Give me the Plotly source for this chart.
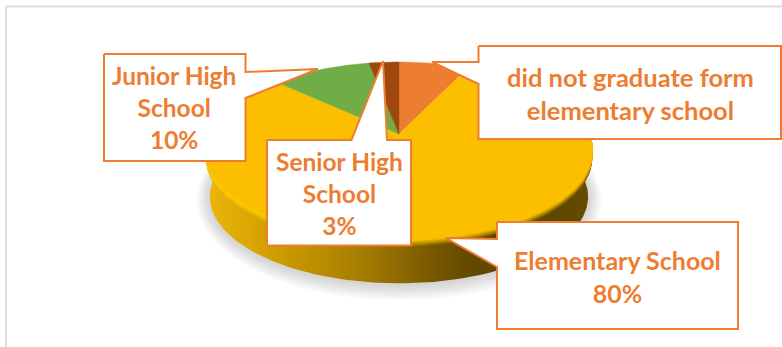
import numpy as np
import plotly.graph_objects as go

# Share of respondents by highest level of schooling
categories = ["did not graduate form elementary school", "Elementary School", "Junior High School", "Senior High School"]
values = [7, 80, 10, 3]
slice_colors = ["#ED7D31", "#FCBF00", "#70AD47", "#9E480E"]
label_lines = [
    "did not graduate form<br>elementary school",
    "Elementary School<br>80%",
    "Junior High<br>School<br>10%",
    "Senior High<br>School<br>3%",
]
ACCENT = "#ED7D31"
FRAME = "#DEDEDE"

# Callout outlines: x then y, tail included
callout_x = [
    [478.5, 781, 781, 478.5, 478.5, 432, 478.5, 478.5],
    [497, 738, 738, 497, 497, 446, 497, 497],
    [104, 245.5, 245.5, 318, 245.5, 245.5, 104, 104],
    [267, 351.5, 383, 387, 411, 411, 267, 267],
]
callout_y = [
    [46, 46, 139, 139, 84, 62, 62, 46],
    [222, 222, 329, 329, 267, 238, 239, 222],
    [54, 54, 72, 69, 98, 161, 161, 54],
    [140, 140, 61, 140, 140, 245.5, 245.5, 140],
]
label_x = [630, 617.5, 174, 339]
label_y = [93, 276, 107.5, 193]
label_size = [25.5, 25, 24.5, 24.5]

# Tilted disc: a unit circle seen in perspective, the centre landing at (CX, CY)
CX, CY = 399.0, 134.0
TILT = 0.191
SCALE_X, SCALE_Y = 190.4, 85.75
DEPTH = 46.0
BOTTOM_SCALE = 0.975
X_MIN, X_MAX = 205.0, 593.0


def disc(t, scale=1.0, dy=0.0, grow=0.0):
    w = 1 + TILT * np.cos(t)
    x = CX + (scale * SCALE_X + grow) * np.sin(t) / w
    y = CY + dy - (scale * SCALE_Y + grow) * np.cos(t) / w
    return x, y


def mix(a, b, f):
    return a + (b - a) * f


def rgb(c):
    return "rgb(%d,%d,%d)" % tuple(np.clip(np.round(c), 0, 255))


# Colour of the side wall along its width, dark toward the right
ramp_x = [205, 225, 290, 357, 423, 473, 560, 593]
ramp_r = [236, 228, 200, 168, 126, 97, 96, 104]
ramp_g = [182, 175, 152, 127, 93, 71, 70, 78]
ramp_b = [8, 5, 0, 0, 0, 0, 0, 0]


def wall_color(x, s):
    base = np.array([np.interp(x, ramp_x, ramp_r), np.interp(x, ramp_x, ramp_g), np.interp(x, ramp_x, ramp_b)], float)
    f = (x - X_MIN) / (X_MAX - X_MIN)
    glow = mix(np.array([255, 214, 0.0]), np.array([252, 191, 0.0]), f)
    return mix(glow, base, min(s / 0.16, 1.0))


fig = go.Figure()


def poly(xs, ys, fill, line_color=None, line_width=0):
    fig.add_trace(go.Scatter(
        x=list(xs), y=list(ys), mode="lines", fill="toself", fillcolor=fill,
        line=dict(color=line_color or fill, width=line_width),
        hoverinfo="skip", showlegend=False,
    ))


# Panel border
fig.add_trace(go.Scatter(x=[6, 6, 782], y=[347, 6.5, 6.5], mode="lines",
                         line=dict(color=FRAME, width=2), hoverinfo="skip", showlegend=False))

# Soft drop shadow under the disc
ring = np.linspace(0, 2 * np.pi, 181)
for grow in np.arange(13, 0, -1.5):
    sx, sy = disc(ring, BOTTOM_SCALE, DEPTH + 1, grow)
    poly(sx, sy, "rgba(110,110,110,0.035)")

# Side wall: a full-height strip, then thin highlight strips along the top edge
wall_t = np.linspace(np.radians(50), np.radians(310), 181)
xa, ya = disc(wall_t)
xb, yb = disc(wall_t, BOTTOM_SCALE, DEPTH)
stop_x = np.linspace(X_MIN, X_MAX, 25)
bands = [(0.0, 1.0, 1.0)] + [(0.0, s, s - 0.01) for s in np.linspace(0.16, 0.02, 8)]
for s0, s1, shade in bands:
    xs = np.r_[mix(xa, xb, s0), mix(xa, xb, s1)[::-1]]
    ys = np.r_[mix(ya, yb, s0), mix(ya, yb, s1)[::-1]]
    scale = [[(x - X_MIN) / (X_MAX - X_MIN), rgb(wall_color(x, shade))] for x in stop_x]
    fig.add_trace(go.Scatter(
        x=xs, y=ys, mode="lines", fill="toself", line=dict(width=0),
        fillgradient=dict(type="horizontal", colorscale=scale, start=X_MIN, stop=X_MAX),
        hoverinfo="skip", showlegend=False,
    ))

# Top face: slices run clockwise from twelve o'clock
edges = np.cumsum([0] + values) / sum(values) * 2 * np.pi
for start, end, color in zip(edges[:-1], edges[1:], slice_colors):
    t = np.linspace(start, end, max(int((end - start) * 60), 4))
    x, y = disc(t)
    poly(np.r_[CX, x, CX], np.r_[CY, y, CY], color, color, 0.5)

# Callout boxes
for xs, ys in zip(callout_x, callout_y):
    poly(xs, ys, "white", ACCENT, 2)

fig.update_layout(
    width=782, height=347, margin=dict(l=0, r=0, t=0, b=0),
    paper_bgcolor="white", plot_bgcolor="white", showlegend=False,
    xaxis=dict(range=[0, 782], visible=False, fixedrange=True),
    yaxis=dict(range=[347, 0], visible=False, fixedrange=True),
    annotations=[
        dict(x=x, y=y, text=text, showarrow=False, xanchor="center", yanchor="middle", align="center",
             font=dict(family="Lato", size=size, color=ACCENT, weight="bold"))
        for x, y, text, size in zip(label_x, label_y, label_lines, label_size)
    ],
)

fig.write_html("out.html", config={"displayModeBar": False})
